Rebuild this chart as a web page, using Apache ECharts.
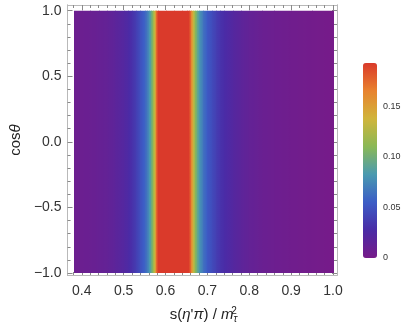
<!DOCTYPE html>
<html>
<head>
<meta charset="utf-8">
<script src="https://cdn.jsdelivr.net/npm/echarts@6/dist/echarts.min.js"></script>
<style>
  html, body { margin: 0; padding: 0; background: #fff; }
  #chart { width: 407px; height: 334px; }
</style>
</head>
<body>
<div id="chart"></div>
<script>
// s(eta' pi)/m_tau^2 sample points and density (independent of cos theta)
const sVals = [0.381, 0.40, 0.42, 0.44, 0.46, 0.48, 0.50, 0.51, 0.52, 0.53, 0.54, 0.55, 0.555, 0.56, 0.565, 0.57, 0.575, 0.578, 0.581,
  0.60, 0.62, 0.64, 0.652, 0.656, 0.66, 0.665, 0.67, 0.675, 0.68, 0.69, 0.70, 0.71, 0.72, 0.73, 0.74, 0.76, 0.78, 0.80, 0.83, 0.86, 0.90, 0.95, 1.0]
const zVals = [0.006, 0.007, 0.008, 0.010, 0.012, 0.016, 0.022, 0.026, 0.031, 0.038, 0.048, 0.060, 0.068, 0.080, 0.095, 0.115, 0.145, 0.170, 0.200,
  0.300, 0.400, 0.350, 0.220, 0.190, 0.165, 0.135, 0.110, 0.095, 0.082, 0.065, 0.053, 0.045, 0.038, 0.032, 0.028, 0.021, 0.016, 0.012, 0.008, 0.006, 0.004, 0.002, 0.0]
const cosRange = [-1, 1]

const xTicks = [0.4, 0.5, 0.6, 0.7, 0.8, 0.9, 1.0]
const xMinor = [0.38, 0.42, 0.44, 0.46, 0.48, 0.52, 0.54, 0.56, 0.58, 0.62, 0.64, 0.66, 0.68, 0.72, 0.74, 0.76, 0.78, 0.82, 0.84, 0.86, 0.88, 0.92, 0.94, 0.96, 0.98]
const yTicks = [-1, -0.5, 0, 0.5, 1]
const yMinor = [-0.9, -0.8, -0.7, -0.6, -0.4, -0.3, -0.2, -0.1, 0.1, 0.2, 0.3, 0.4, 0.6, 0.7, 0.8, 0.9]
const cbTicks = [0, 0.05, 0.1, 0.15]
const cbMinor = [0.01, 0.02, 0.03, 0.04, 0.06, 0.07, 0.08, 0.09, 0.11, 0.12, 0.13, 0.14, 0.16, 0.17, 0.18, 0.19]
const zMax = 0.193

// Mathematica-like "Rainbow" palette
const palette = ['#761b89', '#4a2ba6', '#3c5dc6', '#4a9ab0', '#8ab856', '#d0b53b', '#e8822f', '#da3a2b']

function hexToRgb(h) {
  return [parseInt(h.slice(1, 3), 16), parseInt(h.slice(3, 5), 16), parseInt(h.slice(5, 7), 16)]
}
const paletteRgb = palette.map(hexToRgb)
function colorAt(v) {
  let t = Math.max(0, Math.min(1, v / zMax)) * (paletteRgb.length - 1)
  let i = Math.min(Math.floor(t), paletteRgb.length - 2)
  let f = t - i
  let a = paletteRgb[i], b = paletteRgb[i + 1]
  return 'rgb(' + a.map((c, k) => Math.round(c + (b[k] - c) * f)).join(',') + ')'
}

// one strip per pair of neighbouring samples: [s0, s1, z0, z1]
const strips = []
for (let i = 0; i < sVals.length - 1; i++) {
  strips.push([sVals[i], sVals[i + 1], zVals[i], zVals[i + 1]])
}

const frame = { show: true, onZero: false, lineStyle: { color: '#b9b9b9', width: 1 } }
const font = 'Liberation Sans, Arial, sans-serif'

function tickAxis(pos, ticks, len, labels, extra) {
  return Object.assign({
    type: 'value', position: pos,
    axisLine: frame,
    axisTick: { show: true, inside: true, length: len, customValues: ticks, lineStyle: { color: '#8a8a8a' } },
    axisLabel: labels ? {
      show: true, customValues: ticks, color: '#333', fontSize: 14, fontFamily: font, margin: pos === 'bottom' ? 9 : 6,
      formatter: v => (v < 0 ? '\u2212' : '') + Math.abs(v).toFixed(1)
    } : { show: false },
    splitLine: { show: false }
  }, extra)
}

const xRange = { min: 0.366, max: 1.0095 }
const yRange = { min: -1.015, max: 1.043 }

const chart = echarts.init(document.getElementById('chart'), null, { renderer: 'canvas' })
chart.setOption({
  animation: false,
  grid: [
    { left: 65, top: 5, width: 272, height: 270 },
    { left: 363, top: 63, width: 14, height: 195 }
  ],
  xAxis: [
    tickAxis('bottom', xTicks, 5, true, xRange),
    tickAxis('top', xTicks, 5, false, xRange),
    tickAxis('bottom', xMinor, 3, false, xRange),
    tickAxis('top', xMinor, 3, false, xRange),
    { type: 'value', gridIndex: 1, show: false, min: 0, max: 1 }
  ],
  yAxis: [
    tickAxis('left', yTicks, 5, true, Object.assign({
      name: '{n|cos}{i|θ}', nameLocation: 'middle', nameGap: 40, nameRotate: 90,
      nameTextStyle: { rich: { n: { fontSize: 15, fontFamily: font, color: '#222' }, i: { fontSize: 15, fontFamily: font, fontStyle: 'italic', color: '#222' } } }
    }, yRange)),
    tickAxis('right', yTicks, 5, false, yRange),
    tickAxis('left', yMinor, 3, false, yRange),
    tickAxis('right', yMinor, 3, false, yRange),
    {
      type: 'value', gridIndex: 1, position: 'right', min: 0, max: zMax,
      axisLine: { show: false },
      axisTick: { show: true, inside: true, length: 3, customValues: cbMinor.concat(cbTicks), lineStyle: { color: 'rgba(255,255,255,0.5)' } },
      axisLabel: {
        customValues: cbTicks, color: '#333', fontSize: 9, fontFamily: font, margin: 6,
        formatter: v => v === 0 ? '0' : v.toFixed(2)
      },
      splitLine: { show: false }
    }
  ],
  visualMap: {
    type: 'continuous', seriesIndex: 0, dimension: 2, min: 0, max: zMax,
    calculable: false, show: true, left: 363, top: 63, itemWidth: 14, itemHeight: 195,
    padding: 0, text: null, showLabel: false, hoverLink: false,
    inRange: { color: palette }
  },
  graphic: [{
    type: 'text', left: 'center', top: 306,
    style: {
      text: '{n|s(}{i|η}{n|\'}{i|π}{n|) / }{i|m}{sub|τ}{sup|2}',
      rich: {
        n: { fontSize: 15, fontFamily: font, fill: '#222' },
        i: { fontSize: 15, fontFamily: font, fontStyle: 'italic', fill: '#222' },
        sub: { fontSize: 10, fontFamily: font, fontStyle: 'italic', fill: '#222', verticalAlign: 'bottom', padding: [8, 0, 0, 0] },
        sup: { fontSize: 10, fontFamily: font, fill: '#222', verticalAlign: 'top', padding: [0, 0, 8, -6] }
      }
    }
  }],
  series: [{
    type: 'custom',
    xAxisIndex: 0, yAxisIndex: 0,
    data: strips,
    renderItem: function (params, api) {
      const s0 = api.value(0), s1 = api.value(1)
      const z0 = api.value(2), z1 = api.value(3)
      const p0 = api.coord([s0, cosRange[1]])
      const p1 = api.coord([s1, cosRange[0]])
      const x0 = Math.round(p0[0]), x1 = Math.round(p1[0])
      const stops = []
      for (let k = 0; k <= 8; k++) {
        stops.push({ offset: k / 8, color: colorAt(z0 + (z1 - z0) * k / 8) })
      }
      return {
        type: 'rect',
        shape: { x: x0, y: p0[1], width: Math.max(1, x1 - x0 + 1), height: p1[1] - p0[1] },
        style: { fill: new echarts.graphic.LinearGradient(0, 0, 1, 0, stops) }
      }
    }
  }]
})
</script>
</body>
</html>
